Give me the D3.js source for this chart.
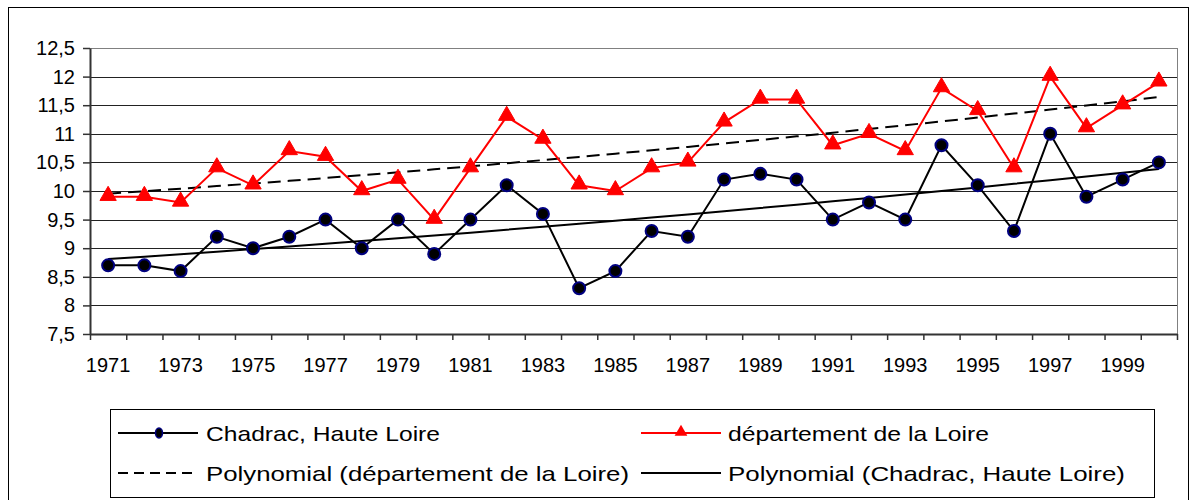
<!DOCTYPE html>
<html>
<head>
<meta charset="utf-8">
<script src="https://cdn.jsdelivr.net/npm/d3@7"></script>
<style>
  body { margin: 0; background: #fff; }
  svg { display: block; font-family: "Liberation Sans", Arial, sans-serif; }
</style>
</head>
<body>
<div id="chart"></div>
<script>
// data
let years = d3.range(1971, 2001);
let chadrac = [8.7, 8.7, 8.6, 9.2, 9.0, 9.2, 9.5, 9.0, 9.5, 8.9,
               9.5, 10.1, 9.6, 8.3, 8.6, 9.3, 9.2, 10.2, 10.3, 10.2,
               9.5, 9.8, 9.5, 10.8, 10.1, 9.3, 11.0, 9.9, 10.2, 10.5];
let loire = [9.9, 9.9, 9.8, 10.4, 10.1, 10.7, 10.6, 10.0, 10.2, 9.5,
             10.4, 11.3, 10.9, 10.1, 10.0, 10.4, 10.5, 11.2, 11.6, 11.6,
             10.8, 11.0, 10.7, 11.8, 11.4, 10.4, 12.0, 11.1, 11.5, 11.9];
let yTicks = [7.5, 8, 8.5, 9, 9.5, 10, 10.5, 11, 11.5, 12, 12.5];
let xLabels = [1971, 1973, 1975, 1977, 1979, 1981, 1983, 1985, 1987, 1989,
               1991, 1993, 1995, 1997, 1999];
let legendNames = ["Chadrac, Haute Loire", "département de la Loire",
                   "Polynomial (département de la Loire)", "Polynomial (Chadrac, Haute Loire)"];

let width = 1196;
let height = 500;
let plot = { left: 90, right: 1177, top: 48, bottom: 334 };

// quadratic least squares, like the Excel "Polynomial" trendline
function polyFit(vals) {
  let s = [0, 0, 0, 0, 0], t = [0, 0, 0];
  vals.forEach((v, i) => {
    let x = i + 1;
    for (let k = 0; k < 5; k++) s[k] += x ** k;
    for (let k = 0; k < 3; k++) t[k] += v * x ** k;
  });
  let m = [[s[0], s[1], s[2], t[0]], [s[1], s[2], s[3], t[1]], [s[2], s[3], s[4], t[2]]];
  for (let c = 0; c < 3; c++) {
    for (let r = c + 1; r < 3; r++) {
      let f = m[r][c] / m[c][c];
      for (let k = c; k < 4; k++) m[r][k] -= f * m[c][k];
    }
  }
  let b = [0, 0, 0];
  for (let r = 2; r >= 0; r--) {
    let acc = m[r][3];
    for (let k = r + 1; k < 3; k++) acc -= m[r][k] * b[k];
    b[r] = acc / m[r][r];
  }
  return vals.map((v, i) => b[0] + b[1] * (i + 1) + b[2] * (i + 1) ** 2);
}

let loireTrend = polyFit(loire);
let chadracTrend = polyFit(chadrac);

let x = d3.scaleBand().domain(years).range([plot.left, plot.right]).padding(0);
let xc = (yr) => x(yr) + x.bandwidth() / 2;
let xi = d3.scaleLinear().domain([0, years.length]).range([plot.left, plot.right]);
let y = d3.scaleLinear().domain([7.5, 12.5]).range([plot.bottom, plot.top]);

let fmt = (d) => String(d).replace(".", ",");

let svg = d3.select("#chart").append("svg")
  .attr("width", width)
  .attr("height", height);

// outer frame
svg.append("rect")
  .attr("x", 8.5).attr("y", 7.5)
  .attr("width", 1180).attr("height", 500)
  .attr("fill", "none").attr("stroke", "#000");

// gridlines
svg.append("g")
  .selectAll("line")
  .data(yTicks.slice(1))
  .enter()
  .append("line")
  .attr("x1", plot.left).attr("x2", plot.right)
  .attr("y1", (d) => Math.round(y(d)) + 0.5)
  .attr("y2", (d) => Math.round(y(d)) + 0.5)
  .attr("stroke", (d) => d === 12.5 ? "#808080" : "#222")
  .attr("stroke-width", 1);

// plot area right border
svg.append("line")
  .attr("x1", plot.right + 0.5).attr("x2", plot.right + 0.5)
  .attr("y1", plot.top).attr("y2", plot.bottom)
  .attr("stroke", "#808080");

// y axis
svg.append("g")
  .attr("transform", `translate(${plot.left},0)`)
  .call(d3.axisLeft(y).tickValues(yTicks).tickFormat(fmt).tickSize(7).tickSizeOuter(0).tickPadding(8))
  .call((g) => g.select(".domain").attr("stroke", "#333").attr("stroke-width", 2))
  .call((g) => g.selectAll(".tick line").attr("stroke", "#333").attr("stroke-width", 1.5))
  .call((g) => g.selectAll("text")
    .attr("font-size", 20).attr("fill", "#000")
    .attr("font-family", "Liberation Sans, Arial, sans-serif"));

// x axis with ticks between categories
svg.append("g")
  .attr("transform", `translate(0,${plot.bottom})`)
  .call(d3.axisBottom(xi).tickValues(d3.range(0, years.length + 1)).tickFormat("").tickSize(6).tickSizeOuter(0))
  .call((g) => g.select(".domain").attr("stroke", "#333").attr("stroke-width", 2))
  .call((g) => g.selectAll(".tick line").attr("stroke", "#333").attr("stroke-width", 1.5));

svg.append("g")
  .selectAll("text")
  .data(xLabels)
  .enter()
  .append("text")
  .attr("x", (d) => xc(d))
  .attr("y", 372)
  .attr("text-anchor", "middle")
  .attr("font-size", 20)
  .text((d) => d);

// trendlines
let trendLine = (vals) => d3.line()
  .x((d, i) => xc(years[i]))
  .y((d) => y(d))(vals);

svg.append("path")
  .attr("d", trendLine(loireTrend))
  .attr("fill", "none")
  .attr("stroke", "#000")
  .attr("stroke-width", 2)
  .attr("stroke-dasharray", "13,7");

svg.append("path")
  .attr("d", trendLine(chadracTrend))
  .attr("fill", "none")
  .attr("stroke", "#000")
  .attr("stroke-width", 2);

// series lines
let seriesLine = d3.line()
  .x((d, i) => xc(years[i]))
  .y((d) => y(d));

svg.append("path")
  .attr("d", seriesLine(loire))
  .attr("fill", "none")
  .attr("stroke", "#ff0000")
  .attr("stroke-width", 2);

svg.append("path")
  .attr("d", seriesLine(chadrac))
  .attr("fill", "none")
  .attr("stroke", "#000")
  .attr("stroke-width", 2);

let tri = d3.symbol().type(d3.symbolTriangle).size(115);

svg.append("g")
  .selectAll("path")
  .data(loire)
  .enter()
  .append("path")
  .attr("transform", (d, i) => `translate(${xc(years[i])},${y(d) - 1})`)
  .attr("d", tri)
  .attr("fill", "#ff0000")
  .attr("stroke", "#ff0000")
  .attr("stroke-width", 1);

svg.append("g")
  .selectAll("circle")
  .data(chadrac)
  .enter()
  .append("circle")
  .attr("cx", (d, i) => xc(years[i]))
  .attr("cy", (d) => y(d))
  .attr("r", 6)
  .attr("fill", "#000")
  .attr("stroke", "#000080")
  .attr("stroke-width", 2);

// legend
let legend = svg.append("g");
legend.append("rect")
  .attr("x", 110.5).attr("y", 409.5)
  .attr("width", 1044).attr("height", 88)
  .attr("fill", "#fff").attr("stroke", "#000");

let rows = [433, 473];
let items = [
  { row: 0, x0: 118, tx: 206, tw: 234, stroke: "#000", dash: null, mark: "circle" },
  { row: 0, x0: 641, tx: 728, tw: 261, stroke: "#ff0000", dash: null, mark: "tri" },
  { row: 1, x0: 118, tx: 206, tw: 423, stroke: "#000", dash: "10,6", mark: null },
  { row: 1, x0: 641, tx: 728, tw: 397, stroke: "#000", dash: null, mark: null },
];

items.forEach((it, i) => {
  let cy = rows[it.row];
  legend.append("line")
    .attr("x1", it.x0).attr("x2", it.x0 + 80)
    .attr("y1", cy).attr("y2", cy)
    .attr("stroke", it.stroke)
    .attr("stroke-width", 2)
    .attr("stroke-dasharray", it.dash);
  if (it.mark === "circle") {
    legend.append("ellipse")
      .attr("cx", it.x0 + 41).attr("cy", cy)
      .attr("rx", 3.5).attr("ry", 5)
      .attr("fill", "#000").attr("stroke", "#000080").attr("stroke-width", 1.5);
  } else if (it.mark === "tri") {
    legend.append("path")
      .attr("transform", `translate(${it.x0 + 40},${cy - 1})`)
      .attr("d", d3.symbol().type(d3.symbolTriangle).size(70))
      .attr("fill", "#ff0000");
  }
  legend.append("text")
    .attr("x", it.tx)
    .attr("y", cy + 8)
    .attr("font-size", 21)
    .attr("textLength", it.tw)
    .attr("lengthAdjust", "spacingAndGlyphs")
    .text(legendNames[i]);
});
</script>
</body>
</html>
